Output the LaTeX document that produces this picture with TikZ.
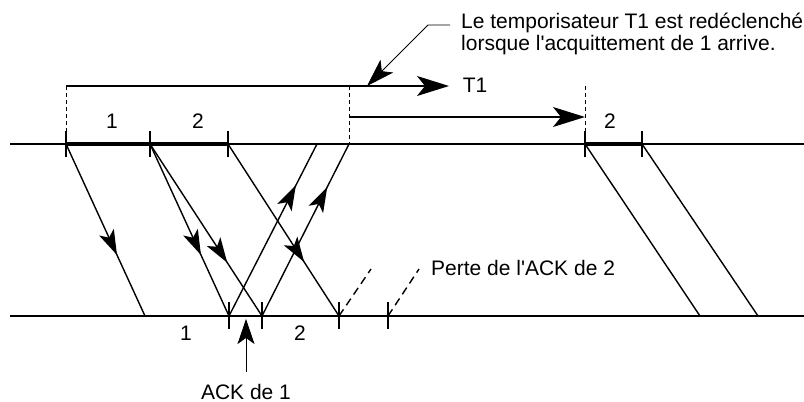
\documentclass[tikz,border=0pt]{standalone}
\usepackage{fontspec}
\setmainfont{Liberation Sans}[Ligatures=TeXOff]
\usetikzlibrary{arrows.meta,decorations.markings}
\begin{document}
\begin{tikzpicture}[x=1pt,y=-1pt,
  axis/.style={line width=1.5pt},
  thickseg/.style={line width=4.5pt},
  tick/.style={line width=1.6pt},
  msg/.style={line width=1.4pt},
  bigtip/.style={-{Stealth[length=32pt,width=20pt,inset=8pt]}},
  timer/.style={line width=1.4pt,bigtip},
  guide/.style={line width=1pt,dash pattern=on 4pt off 3pt},
  lost/.style={line width=1.4pt,dash pattern=on 8pt off 5pt},
  callout/.style={line width=0.8pt},
  midarrow/.style={postaction={decorate,decoration={markings,mark=at position #1 with {\arrow{Stealth[length=25pt,width=16pt,inset=6pt]}}}}},
  lbl/.style={font=\fontsize{21}{23}\selectfont,inner sep=0pt,anchor=base},
]
\useasboundingbox (0,0) rectangle (804,402);
% coordinates
\coordinate (tl) at (10,144); \coordinate (tr) at (804,144);
\coordinate (bl) at (10,316); \coordinate (br) at (804,316);
\coordinate (s1) at (66,144); \coordinate (s2) at (150,144); \coordinate (s3) at (228,144);
\coordinate (s4) at (585,144); \coordinate (s5) at (642,144);
\coordinate (a1) at (317,144); \coordinate (a2) at (349,144);
\coordinate (r1) at (145,316); \coordinate (r2) at (229,316); \coordinate (r3) at (262,316);
\coordinate (r4) at (339,316); \coordinate (r5) at (388,316);
\coordinate (r6) at (700,316); \coordinate (r7) at (758,316);
\coordinate (l1) at (371,269); \coordinate (l2) at (419,269);
\coordinate (t0) at (66,86); \coordinate (t1) at (449,86);
\coordinate (u0) at (349,86); \coordinate (u1) at (349,117); \coordinate (u2) at (585,117);
\coordinate (v0) at (585,86);
\coordinate (c0) at (450,25); \coordinate (c1) at (428,25); \coordinate (c2) at (367,86);
\coordinate (k0) at (246,372); \coordinate (k1) at (246,319);
% axes
\draw[axis] (tl) -- (tr);
\draw[axis] (bl) -- (br);
\draw[thickseg] (s1) -- (s3);
\draw[thickseg] (s4) -- (s5);
% top ticks
\foreach \p in {s1,s2,s3,s4,s5} \draw[tick] ([yshift=-13pt]\p) -- ([yshift=13pt]\p);
% bottom ticks
\foreach \p in {r2,r3,r4,r5} \draw[tick] ([yshift=-13pt]\p) -- ([yshift=14pt]\p);
% messages
\draw[msg,midarrow=0.645] (s1) -- (r1);
\draw[msg,midarrow=0.645] (s2) -- (r2);
\draw[msg,midarrow=0.69] (s2) -- (r3);
\draw[msg,midarrow=0.686] (s3) -- (r4);
\draw[msg,midarrow=0.76] (r2) -- (a1);
\draw[msg,midarrow=0.75] (r3) -- (a2);
\draw[lost] (r4) -- (l1);
\draw[lost] (r5) -- (l2);
\draw[msg] (s4) -- (r6);
\draw[msg] (s5) -- (r7);
% timers
\draw[guide] (t0) -- ([yshift=-13pt]s1);
\draw[guide] (u0) -- (a2);
\draw[guide] (v0) -- ([yshift=-13pt]s4);
\draw[timer] (t0) -- (t1);
\draw[timer] (u1) -- (u2);
% callout
\draw[callout,-{Stealth[length=28pt,width=18pt,inset=7pt]}] (c0) -- (c1) -- (c2);
\draw[callout,-{Stealth[length=25pt,width=17pt,inset=6pt]}] (k0) -- (k1);
% labels
\node[lbl] (n1) at (112,128) {1};
\node[lbl] (n2) at (198,128) {2};
\node[lbl] (n3) at (610,128) {2};
\node[lbl] (nT) at (475,92) {T1};
\node[lbl] (b1) at (186,340) {1};
\node[lbl] (b2) at (300,340) {2};
\node[lbl] (ack) at (246,399) {ACK de 1};
\node[lbl,anchor=base west] (perte) at (431,275) {Perte de l'ACK de 2};
\node[lbl,anchor=base west] (c1t) at (461,28) {Le temporisateur T1 est redéclenché};
\node[lbl,anchor=base west] (c2t) at (461,50.5) {lorsque l'acquittement de 1 arrive.};
\end{tikzpicture}
\end{document}
